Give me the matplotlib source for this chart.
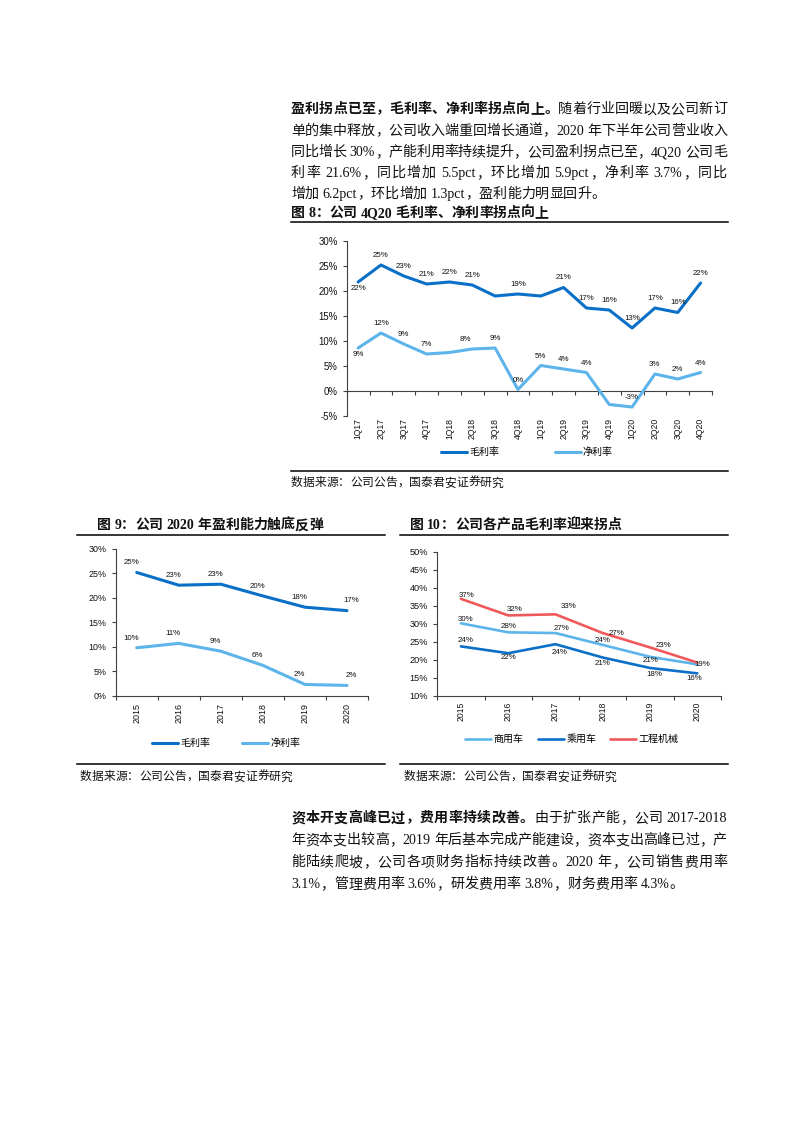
import re
import numpy as np
import matplotlib
matplotlib.use("Agg")
import matplotlib.pyplot as plt
from matplotlib.lines import Line2D
from matplotlib.font_manager import FontProperties

plt.rcParams['font.family'] = ['Liberation Sans', 'Noto Sans CJK SC']
plt.rcParams['axes.unicode_minus'] = False

# 图8: quarterly margins (%)
quarters = ["1Q17", "2Q17", "3Q17", "4Q17", "1Q18", "2Q18", "3Q18", "4Q18",
            "1Q19", "2Q19", "3Q19", "4Q19", "1Q20", "2Q20", "3Q20", "4Q20"]
q_gross = [21.8, 25.2, 23.0, 21.4, 21.8, 21.2, 19.0, 19.4, 19.0, 20.7, 16.6, 16.2, 12.6, 16.6, 15.7, 21.6]
q_net = [8.6, 11.6, 9.4, 7.4, 7.7, 8.4, 8.6, 0.3, 5.1, 4.4, 3.7, -2.7, -3.2, 3.4, 2.4, 3.7]

# 图9: annual margins (%)
years = ["2015", "2016", "2017", "2018", "2019", "2020"]
y_gross = [25.2, 22.6, 22.8, 20.4, 18.1, 17.4]
y_net = [9.8, 10.7, 9.1, 6.2, 2.3, 2.1]

# 图10: gross margin by product (%)
seg_names = ["商用车", "乘用车", "工程机械"]
seg_commercial = [30.1, 27.6, 27.4, 24.1, 20.8, 18.7]
seg_passenger = [23.7, 21.8, 24.3, 20.6, 17.7, 16.2]
seg_machinery = [36.9, 32.3, 32.6, 27.4, 23.4, 19.2]

W, H = 793, 1122
DARK, LIGHT, RED = "#0A6FC7", "#5CB4EA", "#F0595B"
AX = "#404040"
TXT = "#111111"
SERIF_CJK = ['Liberation Serif', 'Noto Sans CJK SC']

fig = plt.figure(figsize=(W / 100, H / 100), dpi=100)
renderer = fig.canvas.get_renderer()


def fx(x):
    return x / W


def fy(y):
    return 1 - y / H


def box(x0, y0, x1, y1):
    return [x0 / W, 1 - y1 / H, (x1 - x0) / W, (y1 - y0) / H]


def adv(tok, prop):
    w1 = renderer.get_text_width_height_descent("I" + tok + "I", prop, ismath=False)[0]
    w0 = renderer.get_text_width_height_descent("II", prop, ismath=False)[0]
    return w1 - w0


def text_line(y, runs, x0, x1=None, size=10.1, color=TXT):
    # y is the visual centre of the line in pixels; x1 given -> justified
    toks = []
    for s, bold in runs:
        for t in re.findall(r'[\x21-\x7e]+|\s|[^\x00-\x7f]', s):
            toks.append((t, bold))
    em = size * 100 / 72
    widths = []
    for t, bold in toks:
        if ord(t[0]) > 127:
            widths.append(em)
        else:
            prop = FontProperties(family=SERIF_CJK, size=size, weight='bold' if bold else 'normal')
            widths.append(adv(t, prop))
    gap = 0 if x1 is None else (x1 - x0 - sum(widths)) / (len(toks) - 1)
    x = x0
    for (t, bold), w in zip(toks, widths):
        if not t.isspace():
            fig.text(fx(x), fy(y + 0.37 * em), t, fontsize=size, family=SERIF_CJK,
                     fontweight='bold' if bold else 'light', ha='left', va='baseline', color=color)
        x += w + gap


def hline(y, x0, x1, lw=1.1):
    fig.add_artist(Line2D([fx(x0), fx(x1)], [fy(y), fy(y)], transform=fig.transFigure, color='black', lw=lw))


def put_labels(ax, xs, vals, offs, skip=(), size=5.7):
    for i, (x, v) in enumerate(zip(xs, vals)):
        if i in skip:
            continue
        ax.annotate(f"{v:.0f}%", (x, v), xytext=offs[i], textcoords='offset points',
                    ha='center', va='center', fontsize=size, color=TXT)


def style_axes(ax, n, ylo, yhi, step, ysize):
    ax.set_xlim(-0.5, n - 0.5)
    ax.set_ylim(ylo, yhi)
    ax.set_yticks(np.arange(ylo, yhi + 1, step))
    ax.yaxis.set_major_formatter(lambda v, p: f"{v:.0f}%")
    ax.tick_params(axis='y', length=3, width=0.8, pad=3.5, labelsize=ysize, color=AX, labelcolor=TXT)
    for s in ['top', 'right']:
        ax.spines[s].set_visible(False)
    for s in ['left', 'bottom']:
        ax.spines[s].set_color(AX)
        ax.spines[s].set_linewidth(0.8)


# ---------------- top paragraph ----------------
X0, X1 = 291, 727
text_line(108, [("盈利拐点已至，毛利率、净利率拐点向上。", True), ("随着行业回暖以及公司新订", False)], X0, X1)
text_line(129.5, [("单的集中释放，公司收入端重回增长通道，2020 年下半年公司营业收入", False)], X0, X1)
text_line(151, [("同比增长 30%，产能利用率持续提升，公司盈利拐点已至，4Q20 公司毛", False)], X0, X1)
text_line(172, [("利率 21.6%，同比增加 5.5pct，环比增加 5.9pct，净利率 3.7%，同比", False)], X0, X1)
text_line(192.5, [("增加 6.2pct，环比增加 1.3pct，盈利能力明显回升。", False)], X0)

# ---------------- 图8 ----------------
text_line(212, [("图 8：公司 4Q20 毛利率、净利率拐点向上", True)], X0, size=10)
hline(222, X0, 728)

ax1 = fig.add_axes(box(346.7, 241, 712, 416))
xq = np.arange(len(quarters))
ax1.plot(xq, q_gross, color=DARK, lw=2.2, solid_joinstyle='round', solid_capstyle='round', label="毛利率")
ax1.plot(xq, q_net, color=LIGHT, lw=2.2, solid_joinstyle='round', solid_capstyle='round', label="净利率")
style_axes(ax1, len(quarters), -5, 30, 5, 6.9)
ax1.spines['bottom'].set_visible(False)
ax1.set_xticks(xq, quarters, rotation=90)
ax1.tick_params(axis='x', length=0, pad=1.5, labelsize=6.2, labelcolor=TXT)
sec = ax1.secondary_xaxis(5 / 35)
sec.set_xticks(np.arange(len(quarters) + 1) - 0.5)
sec.tick_params(axis='x', length=3, width=0.8, color=AX, labelbottom=False)
sec.spines['bottom'].set_color(AX)
sec.spines['bottom'].set_linewidth(0.8)

put_labels(ax1, xq, q_gross, [(0, -5)] + [(0, 7)] * 15, skip=(6, 8))
put_labels(ax1, xq, q_net, [(0, -4.5)] + [(0, 6.5)] * 4 + [(-5, 6.5)] + [(0, 6.5)] * 10, skip=(4, 11))

ax1.legend(loc='center', bbox_to_anchor=(fx(527), fy(452)), bbox_transform=fig.transFigure,
           ncol=2, frameon=False, fontsize=7.2, handlelength=2.6, handletextpad=0.25, columnspacing=5.5)
hline(471, X0, 728)
text_line(482, [("数据来源：公司公告，国泰君安证券研究", False)], X0, size=8.5)

# ---------------- 图9 ----------------
text_line(524, [("图 9：公司 2020 年盈利能力触底反弹", True)], 97, size=10)
hline(535, 77, 385)

ax2 = fig.add_axes(box(115.7, 549, 368, 695.7))
xy = np.arange(len(years))
ax2.plot(xy, y_gross, color=DARK, lw=2.2, solid_joinstyle='round', solid_capstyle='round', label="毛利率")
ax2.plot(xy, y_net, color=LIGHT, lw=2.2, solid_joinstyle='round', solid_capstyle='round', label="净利率")
style_axes(ax2, len(years), 0, 30, 5, 6.4)
ax2.set_xticks(xy, years, rotation=90)
ax2.set_xticks(np.arange(len(years) + 1) - 0.5, minor=True)
ax2.tick_params(axis='x', which='major', length=0, pad=5, labelsize=6.4, labelcolor=TXT)
ax2.tick_params(axis='x', which='minor', length=3, width=0.8, color=AX)
put_labels(ax2, xy, y_gross, [(-4, 7)] * 5 + [(3, 7)])
put_labels(ax2, xy, y_net, [(-4, 7)] * 5 + [(3, 7)])

ax2.legend(loc='center', bbox_to_anchor=(fx(226), fy(743)), bbox_transform=fig.transFigure,
           ncol=2, frameon=False, fontsize=7.2, handlelength=2.6, handletextpad=0.25, columnspacing=3.2)
hline(764, 77, 385)
text_line(776, [("数据来源：公司公告，国泰君安证券研究", False)], 80, size=8.5)

# ---------------- 图10 ----------------
text_line(524, [("图 10：公司各产品毛利率迎来拐点", True)], 410, size=10)
hline(535, 400, 728)

ax3 = fig.add_axes(box(437.3, 551.7, 721, 695.7))
ax3.plot(xy, seg_commercial, color=LIGHT, lw=1.9, solid_joinstyle='round', solid_capstyle='round', label=seg_names[0])
ax3.plot(xy, seg_passenger, color=DARK, lw=1.9, solid_joinstyle='round', solid_capstyle='round', label=seg_names[1])
ax3.plot(xy, seg_machinery, color=RED, lw=1.9, solid_joinstyle='round', solid_capstyle='round', label=seg_names[2])
style_axes(ax3, len(years), 10, 50, 5, 6.6)
ax3.set_xticks(xy, years, rotation=90)
ax3.set_xticks(np.arange(len(years) + 1) - 0.5, minor=True)
ax3.tick_params(axis='x', which='major', length=0, pad=4.5, labelsize=6.2, labelcolor=TXT)
ax3.tick_params(axis='x', which='minor', length=3, width=0.8, color=AX)
put_labels(ax3, xy, seg_commercial, [(3, 3), (0, 4.3), (4, 3.6), (0, 3), (0, -3), (3.6, 0)])
put_labels(ax3, xy, seg_passenger, [(3.6, 4.3), (0, -3), (3, -6), (0, -4.3), (3, -5), (-2, -3.6)])
put_labels(ax3, xy, seg_machinery, [(4.3, 2.2), (4.3, 4.3), (9.4, 5.8), (10, 0), (10, 1.5), (0, 0)], skip=(5,))

ax3.legend(loc='center', bbox_to_anchor=(fx(572), fy(739)), bbox_transform=fig.transFigure,
           ncol=3, frameon=False, fontsize=7.2, handlelength=2.6, handletextpad=0.25, columnspacing=1.4)
hline(764, 400, 728)
text_line(776, [("数据来源：公司公告，国泰君安证券研究", False)], 404, size=8.5)

# ---------------- bottom paragraph ----------------
text_line(817, [("资本开支高峰已过，费用率持续改善。", True), ("由于扩张产能，公司 2017-2018", False)], X0, X1)
text_line(839, [("年资本支出较高，2019 年后基本完成产能建设，资本支出高峰已过，产", False)], X0, X1)
text_line(861, [("能陆续爬坡，公司各项财务指标持续改善。2020 年，公司销售费用率", False)], X0, X1)
text_line(883, [("3.1%，管理费用率 3.6%，研发费用率 3.8%，财务费用率 4.3%。", False)], X0)

fig.savefig("out.png", dpi=100)
